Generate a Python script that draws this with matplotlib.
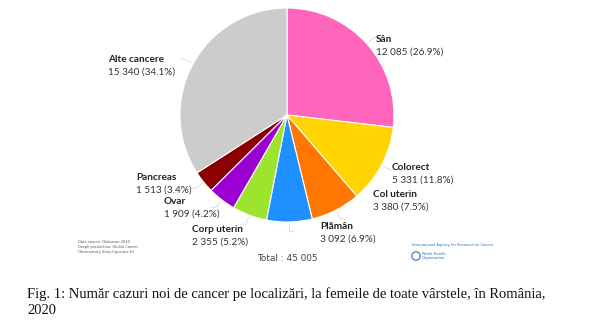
import matplotlib
matplotlib.use("Agg")
import matplotlib.pyplot as plt
import numpy as np

categories = ["Sân", "Colorect", "Col uterin", "Plămân", "Corp uterin", "Ovar", "Pancreas", "Alte cancere"]
values = [12085, 5331, 3380, 3092, 2355, 1909, 1513, 15340]
value_labels = ["12 085", "5 331", "3 380", "3 092", "2 355", "1 909", "1 513", "15 340"]
percents = [26.9, 11.8, 7.5, 6.9, 5.2, 4.2, 3.4, 34.1]
colors = ["#FF66BB", "#FFD400", "#FF7700", "#1E90FF", "#9DE42E", "#9A00D0", "#8B0000", "#CCCCCC"]
total_label = "Total : 45 005"
caption = "Fig. 1: Număr cazuri noi de cancer pe localizări, la femeile de toate vârstele, în România,\n2020"

W, H = 602, 331
fig = plt.figure(figsize=(W / 100, H / 100), dpi=100)
ax = fig.add_axes([0, 0, 1, 1])

cx, cy, r = 287, 115, 107
ax.pie(values, colors=colors, startangle=90, counterclock=False,
       center=(cx, H - cy), radius=r,
       wedgeprops=dict(edgecolor="white", linewidth=0.8), frame=False)
ax.set_xlim(0, W)
ax.set_ylim(0, H)
ax.set_aspect("equal")
ax.axis("off")

# label positions (top-left of label, in pixels)
label_pos = {
    "Sân": (376, 35),
    "Colorect": (392, 163),
    "Col uterin": (373, 190),
    "Plămân": (320, 222),
    "Corp uterin": (192, 225),
    "Ovar": (164, 197),
    "Pancreas": (136, 173),
    "Alte cancere": (108, 55),
}

font = "Lato"
lab_fs = 7.2
# faint leader lines
cum = np.cumsum([0] + values[:-1])
tot = sum(values)
for i, name in enumerate(categories):
    mid = 90 - (cum[i] + values[i] / 2) / tot * 360
    a = np.deg2rad(mid)
    x0, y0 = cx + r * 1.02 * np.cos(a), cy - r * 1.02 * np.sin(a)
    x1, y1 = cx + r * 1.09 * np.cos(a), cy - r * 1.09 * np.sin(a)
    dx = 5 if np.cos(a) > 0 else -5
    xs = [x0, x1, x1 + dx]
    ys = [y0, y1, y1]
    ax.plot(xs, [H - v for v in ys], color="#E2E2E2", lw=0.8, solid_capstyle="butt")

for i, name in enumerate(categories):
    lx, ly = label_pos[name]
    ax.text(lx, H - ly, name, ha="left", va="top", fontsize=lab_fs,
            fontweight="bold", family=font, color="#222222")
    ax.text(lx, H - ly - 13, f"{value_labels[i]} ({percents[i]}%)", ha="left", va="top",
            fontsize=lab_fs, family=font, color="#333333")

ax.text(287, H - 254, total_label, ha="center", va="top", fontsize=6.4,
        family="DejaVu Sans", color="#444444")

ax.text(78, H - 240, "Data source: Globocan 2020\nGraph production: Global Cancer\nObservatory (http://gco.iarc.fr)",
        ha="left", va="top", fontsize=2.6, family="DejaVu Sans", color="#555555", linespacing=1.3)

# IARC / WHO mark
ax.text(412, H - 245, "International Agency for Research on Cancer", ha="left", va="center",
        fontsize=2.6, family="DejaVu Sans", color="#2A6EBB")
logo = plt.Circle((416, H - 256), 4.2, fill=False, edgecolor="#2A6EBB", lw=0.8)
ax.add_patch(logo)
ax.text(422, H - 256, "World Health\nOrganization", ha="left", va="center",
        fontsize=2.6, family="DejaVu Sans", color="#2A6EBB", linespacing=1.1)

ax.text(27, H - 287, caption, ha="left", va="top", fontsize=10.5,
        family="Liberation Serif", color="#111111", linespacing=1.3)

fig.savefig("out.png", dpi=100, facecolor="white")
